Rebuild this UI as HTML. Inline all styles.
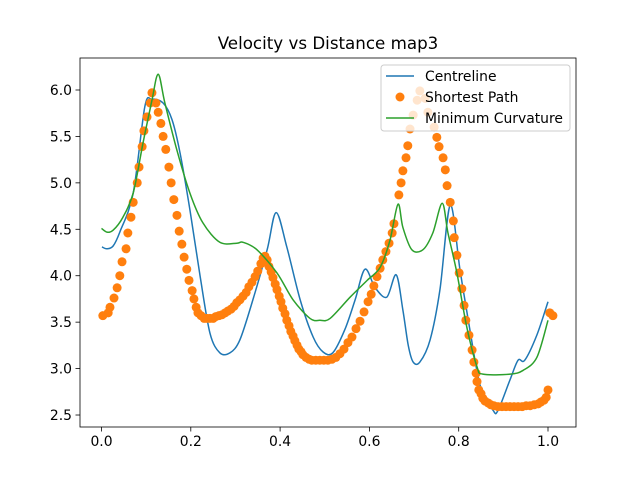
<!DOCTYPE html>
<html><head><meta charset="utf-8"><style>
body{margin:0;background:#fff}
svg text{font-family:"DejaVu Sans","Liberation Sans",sans-serif}
</style></head><body>
<svg id="chart" width="640" height="480" xmlns="http://www.w3.org/2000/svg">
<rect width="640" height="480" fill="#fff"/>
<text x="328" y="49" font-size="16.7" text-anchor="middle">Velocity vs Distance map3</text>
<g id="plot"></g>
<g id="axes"></g>
<g>
<rect x="381" y="65" width="189" height="66" rx="3" fill="#fff" fill-opacity="0.8" stroke="#ccc"/>
<line x1="386" y1="76" x2="414" y2="76" stroke="#1f77b4" stroke-width="1.5"/>
<text x="425" y="81" font-size="13.9">Centreline</text>
<circle cx="400" cy="97" r="4.5" fill="#ff7f0e"/>
<text x="425" y="102" font-size="13.9">Shortest Path</text>
<line x1="386" y1="118" x2="414" y2="118" stroke="#2ca02c" stroke-width="1.5"/>
<text x="425" y="123" font-size="13.9">Minimum Curvature</text>
</g>
</svg>
<script>
const xTicks=[0,0.2,0.4,0.6,0.8,1.0];
const xTickLabels=["0.0","0.2","0.4","0.6","0.8","1.0"];
const yTicks=[2.5,3.0,3.5,4.0,4.5,5.0,5.5,6.0];
const yTickLabels=["2.5","3.0","3.5","4.0","4.5","5.0","5.5","6.0"];
const centreX=[0.001,0.012,0.026,0.041,0.071,0.097,0.113,0.138,0.158,0.176,0.198,0.221,0.243,0.265,0.288,0.310,0.339,0.371,0.391,0.415,0.445,0.474,0.496,0.518,0.545,0.568,0.590,0.613,0.639,0.660,0.675,0.687,0.698,0.713,0.736,0.758,0.781,0.803,0.825,0.848,0.877,0.888,0.915,0.933,0.948,0.975,1.0];
const centreY=[4.31,4.29,4.32,4.47,4.89,5.82,5.90,5.86,5.68,5.32,4.71,3.99,3.38,3.17,3.17,3.31,3.74,4.28,4.68,4.31,3.74,3.34,3.18,3.17,3.42,3.74,4.07,3.87,3.77,4.01,3.63,3.25,3.07,3.07,3.31,3.85,4.76,4.06,3.42,2.82,2.55,2.55,2.88,3.09,3.09,3.36,3.72];
const minCurvX=[0,0.012,0.026,0.048,0.071,0.093,0.113,0.127,0.142,0.169,0.198,0.227,0.265,0.303,0.317,0.348,0.393,0.429,0.467,0.489,0.512,0.557,0.595,0.624,0.646,0.664,0.675,0.695,0.720,0.742,0.763,0.776,0.796,0.818,0.841,0.854,0.915,0.944,0.975,1.0];
const minCurvY=[4.51,4.47,4.49,4.63,4.89,5.43,5.89,6.17,5.86,5.35,4.89,4.57,4.36,4.35,4.36,4.28,4.03,3.74,3.54,3.52,3.54,3.77,3.95,4.09,4.38,4.77,4.52,4.28,4.28,4.46,4.78,4.46,4.03,3.45,3.02,2.94,2.94,2.98,3.12,3.52];
const shortX=[0.003,0.015,0.019,0.028,0.035,0.041,0.046,0.055,0.059,0.066,0.071,0.080,0.084,0.091,0.095,0.102,0.109,0.113,0.122,0.127,0.133,0.138,0.144,0.151,0.156,0.162,0.169,0.174,0.180,0.185,0.191,0.196,0.203,0.207,0.212,0.216,0.223,0.230,
0.236,0.243,0.250,0.256,0.263,0.270,0.277,0.283,0.290,0.297,0.303,0.310,0.317,0.324,0.330,0.337,0.344,0.350,0.357,0.362,0.366,0.371,0.375,0.380,0.384,0.389,0.393,0.398,0.402,0.406,0.411,0.415,0.420,0.424,0.429,0.433,0.438,0.442,0.447,0.451,0.458,0.465,0.471,0.480,0.489,0.498,0.507,0.516,0.525,0.534,0.543,0.552,0.561,0.570,0.579,0.588,0.597,0.604,0.610,0.617,0.624,0.630,0.637,0.644,0.651,0.655,
0.666,0.671,0.675,0.682,0.686,0.691,0.698,0.707,0.713,0.725,0.731,0.745,0.751,0.756,0.765,0.770,0.774,0.781,0.788,0.790,0.796,0.801,0.807,0.812,0.816,0.823,0.830,0.834,0.839,0.841,0.845,
0.850,0.854,0.859,0.866,0.872,0.879,0.888,0.897,0.906,0.915,0.924,0.933,0.942,0.951,0.960,0.969,0.978,0.984,0.991,0.996,1.0,1.004,1.011];
const shortY=[3.57,3.60,3.66,3.76,3.87,4.00,4.15,4.29,4.46,4.63,4.79,5.00,5.17,5.39,5.56,5.71,5.86,5.97,5.86,5.76,5.64,5.50,5.36,5.17,5.00,4.82,4.65,4.48,4.34,4.20,4.07,3.95,3.84,3.75,3.66,3.60,3.57,3.54,
3.54,3.54,3.54,3.56,3.57,3.58,3.60,3.62,3.64,3.67,3.71,3.74,3.78,3.82,3.88,3.93,3.99,4.05,4.13,4.19,4.21,4.17,4.10,4.04,3.98,3.91,3.85,3.78,3.72,3.65,3.59,3.52,3.46,3.40,3.35,3.30,3.25,3.21,3.18,3.15,3.12,3.10,3.09,3.09,3.09,3.09,3.09,3.10,3.12,3.16,3.21,3.28,3.34,3.43,3.51,3.61,3.72,3.80,3.89,3.99,4.08,4.17,4.26,4.35,4.46,4.56,
4.87,5.00,5.13,5.27,5.40,5.58,5.73,5.89,5.99,5.91,5.76,5.60,5.49,5.39,5.27,5.14,4.97,4.79,4.59,4.41,4.22,4.03,3.86,3.68,3.52,3.36,3.20,3.07,2.95,2.86,2.77,
2.73,2.68,2.65,2.63,2.61,2.60,2.59,2.59,2.59,2.59,2.59,2.59,2.59,2.60,2.60,2.61,2.62,2.64,2.66,2.69,2.77,3.60,3.57];

const L=80,R=576,T=58,B=427;
function sx(v){return 101.5+v*446.5;}
function sy(v){return 90+(6-v)*92.86;}
const NS="http://www.w3.org/2000/svg";
const plot=document.getElementById('plot');
const axes=document.getElementById('axes');
function mk(tag,attrs,parent){const e=document.createElementNS(NS,tag);for(const k in attrs)e.setAttribute(k,attrs[k]);parent.appendChild(e);return e;}
function smooth(xs,ys){
  const p=xs.map((x,i)=>[sx(x),sy(ys[i])]);
  let d='M'+p[0][0]+','+p[0][1];
  for(let i=0;i<p.length-1;i++){
    const p0=p[i-1]||p[i],p1=p[i],p2=p[i+1],p3=p[i+2]||p2;
    const t=0.16;
    const c1=[p1[0]+(p2[0]-p0[0])*t,p1[1]+(p2[1]-p0[1])*t];
    const c2=[p2[0]-(p3[0]-p1[0])*t,p2[1]-(p3[1]-p1[1])*t];
    d+=' C'+c1[0].toFixed(2)+','+c1[1].toFixed(2)+' '+c2[0].toFixed(2)+','+c2[1].toFixed(2)+' '+p2[0].toFixed(2)+','+p2[1].toFixed(2);
  }
  return d;
}

const cl=mk('path',{d:smooth(centreX,centreY),fill:'none',stroke:'#1f77b4','stroke-width':1.5,'stroke-linejoin':'round'},plot);


shortX.forEach((x,i)=>{
  const c=mk('circle',{cx:sx(x),cy:sy(shortY[i]),r:4.5,fill:'#ff7f0e'},plot);
  
  
});
const mc=mk('path',{d:smooth(minCurvX,minCurvY),fill:'none',stroke:'#2ca02c','stroke-width':1.5,'stroke-linejoin':'round'},plot);



const frame=mk('rect',{x:L,y:T,width:R-L,height:B-T,fill:'none',stroke:'#000','stroke-width':0.8},axes);


xTicks.forEach((v,i)=>{
  const x=sx(v);
  const t=mk('line',{x1:x,y1:B,x2:x,y2:B+4.5,stroke:'#000','stroke-width':0.8},axes);
  
  
  const lb=mk('text',{x:x,y:B+19,'font-size':13.9,'text-anchor':'middle'},axes);
  lb.textContent=xTickLabels[i];
  
  
});
yTicks.forEach((v,i)=>{
  const y=sy(v);
  const t=mk('line',{x1:L-4.5,y1:y,x2:L,y2:y,stroke:'#000','stroke-width':0.8},axes);
  
  
  const lb=mk('text',{x:L-8,y:y+5,'font-size':13.9,'text-anchor':'end'},axes);
  lb.textContent=yTickLabels[i];
  
  
});
</script>
</body></html>
